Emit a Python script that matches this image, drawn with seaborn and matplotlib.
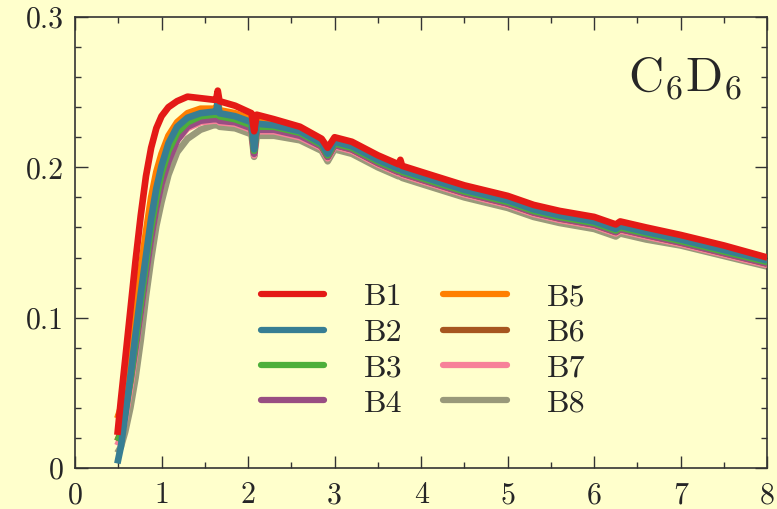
import numpy as np
import pandas as pd
import matplotlib
matplotlib.use("Agg")
import matplotlib.pyplot as plt
from matplotlib.ticker import MultipleLocator, FixedLocator, FixedFormatter
import seaborn as sns

# x grid shared by all bands
x_vals = [0.49, 0.53, 0.58, 0.64, 0.70, 0.76, 0.82, 0.88, 0.94, 1.00, 1.08, 1.18,
          1.30, 1.45, 1.60, 1.63, 1.65, 1.67, 1.85, 2.04, 2.07, 2.10, 2.30, 2.60,
          2.85, 2.92, 3.00, 3.20, 3.50, 3.74, 3.76, 3.78, 4.00, 4.50, 5.00, 5.30,
          5.60, 6.00, 6.25, 6.30, 6.60, 7.00, 7.50, 8.00]

b1 = [0.022, 0.045, 0.072, 0.105, 0.138, 0.168, 0.194, 0.213, 0.226, 0.234, 0.240, 0.244,
      0.247, 0.246, 0.245, 0.245, 0.251, 0.244, 0.241, 0.236, 0.224, 0.235, 0.232, 0.227,
      0.219, 0.213, 0.220, 0.217, 0.208, 0.202, 0.205, 0.201, 0.197, 0.188, 0.181, 0.175,
      0.171, 0.167, 0.162, 0.164, 0.160, 0.155, 0.148, 0.140]
b2 = [0.003, 0.014, 0.035, 0.061, 0.089, 0.116, 0.141, 0.166, 0.186, 0.201, 0.216, 0.227,
      0.233, 0.236, 0.237, 0.237, 0.243, 0.236, 0.234, 0.230, 0.212, 0.229, 0.228, 0.224,
      0.216, 0.209, 0.217, 0.214, 0.205, 0.199, 0.201, 0.198, 0.194, 0.185, 0.178, 0.172,
      0.168, 0.164, 0.159, 0.161, 0.157, 0.152, 0.145, 0.138]
b3 = [0.018, 0.022, 0.036, 0.058, 0.084, 0.110, 0.136, 0.160, 0.180, 0.196, 0.211, 0.223,
      0.230, 0.234, 0.235, 0.235, 0.240, 0.234, 0.232, 0.228, 0.211, 0.227, 0.227, 0.223,
      0.215, 0.208, 0.216, 0.213, 0.204, 0.198, 0.200, 0.197, 0.193, 0.184, 0.177, 0.171,
      0.167, 0.163, 0.158, 0.160, 0.156, 0.151, 0.144, 0.137]
b4 = [0.034, 0.036, 0.042, 0.058, 0.080, 0.104, 0.129, 0.153, 0.173, 0.189, 0.204, 0.218,
      0.227, 0.231, 0.232, 0.232, 0.237, 0.231, 0.230, 0.226, 0.209, 0.225, 0.225, 0.221,
      0.214, 0.207, 0.215, 0.212, 0.203, 0.197, 0.199, 0.196, 0.192, 0.183, 0.176, 0.170,
      0.166, 0.162, 0.157, 0.159, 0.155, 0.150, 0.143, 0.136]
b5 = [0.033, 0.040, 0.055, 0.078, 0.105, 0.132, 0.157, 0.180, 0.197, 0.209, 0.221, 0.230,
      0.236, 0.239, 0.239, 0.239, 0.244, 0.238, 0.236, 0.232, 0.215, 0.231, 0.230, 0.226,
      0.218, 0.211, 0.219, 0.216, 0.207, 0.201, 0.203, 0.200, 0.196, 0.187, 0.180, 0.174,
      0.170, 0.166, 0.161, 0.163, 0.159, 0.154, 0.147, 0.139]
b6 = [0.018, 0.024, 0.038, 0.060, 0.086, 0.112, 0.138, 0.161, 0.181, 0.196, 0.210, 0.222,
      0.229, 0.233, 0.234, 0.234, 0.239, 0.233, 0.231, 0.227, 0.210, 0.226, 0.226, 0.222,
      0.214, 0.207, 0.215, 0.212, 0.203, 0.197, 0.199, 0.196, 0.192, 0.183, 0.176, 0.170,
      0.166, 0.162, 0.157, 0.159, 0.155, 0.150, 0.143, 0.136]
b7 = [0.015, 0.020, 0.033, 0.054, 0.078, 0.104, 0.130, 0.154, 0.174, 0.190, 0.205, 0.218,
      0.226, 0.230, 0.231, 0.231, 0.236, 0.230, 0.229, 0.225, 0.208, 0.224, 0.224, 0.220,
      0.213, 0.206, 0.214, 0.211, 0.202, 0.196, 0.198, 0.195, 0.191, 0.182, 0.175, 0.169,
      0.165, 0.161, 0.156, 0.158, 0.154, 0.149, 0.142, 0.135]
b8 = [0.010, 0.014, 0.024, 0.040, 0.060, 0.085, 0.114, 0.139, 0.161, 0.177, 0.195, 0.210,
      0.219, 0.225, 0.228, 0.228, 0.232, 0.227, 0.226, 0.222, 0.207, 0.221, 0.221, 0.218,
      0.211, 0.204, 0.212, 0.209, 0.200, 0.194, 0.196, 0.193, 0.189, 0.180, 0.173, 0.167,
      0.163, 0.159, 0.154, 0.156, 0.152, 0.148, 0.141, 0.134]

band_names = ["B1", "B2", "B3", "B4", "B5", "B6", "B7", "B8"]
band_values = [b1, b2, b3, b4, b5, b6, b7, b8]

x_ticks = [0, 1, 2, 3, 4, 5, 6, 7, 8]
y_ticks = [0, 0.1, 0.2, 0.3]
y_tick_labels = ["0", "0.1", "0.2", "0.3"]

df = pd.concat([pd.DataFrame({"x": x_vals, "y": v, "band": n})
                for n, v in zip(band_names, band_values)], ignore_index=True)

bg = "#ffffcc"
sns.set_style("ticks")
plt.rcParams["mathtext.fontset"] = "cm"
plt.rcParams["font.family"] = ["cmr10", "DejaVu Serif"]

# Set1 without its yellow, as the colours look over the yellow paper
set1 = sns.color_palette("Set1", 9)
set1 = [c for i, c in enumerate(set1) if i != 5]
bg_rgb = np.array(matplotlib.colors.to_rgb(bg))
colors = {n: tuple(np.array(c) * bg_rgb) for n, c in zip(band_names, set1)}

fig = plt.figure(figsize=(7.77, 5.09), dpi=100, facecolor=bg)
ax = fig.add_axes([0.0965, 0.0806, 0.891, 0.886])
ax.set_facecolor(bg)

draw_order = ["B8", "B7", "B6", "B4", "B3", "B5", "B2", "B1"]
for z, name in enumerate(draw_order):
    sns.lineplot(data=df[df["band"] == name], x="x", y="y", color=colors[name],
                 lw=4.8, ax=ax, zorder=2 + z, legend=False, solid_capstyle="butt")

handles = [matplotlib.lines.Line2D([], [], color=colors[n], lw=4.5) for n in band_names]
ax.legend(handles, band_names, ncol=2, loc="upper left", bbox_to_anchor=(0.268, 0.41),
          frameon=False, fontsize=23, handlelength=2.0, handletextpad=1.25,
          columnspacing=1.25, labelspacing=0.22, borderpad=0, borderaxespad=0)

ax.text(0.964, 0.835, r"$\mathrm{C_6D_6}$", transform=ax.transAxes, ha="right",
        va="baseline", fontsize=35)

ax.set_xlim(0, 8)
ax.set_ylim(0, 0.3)
ax.xaxis.set_major_locator(FixedLocator(x_ticks))
ax.xaxis.set_minor_locator(MultipleLocator(0.5))
ax.yaxis.set_major_locator(FixedLocator(y_ticks))
ax.yaxis.set_major_formatter(FixedFormatter(y_tick_labels))
ax.yaxis.set_minor_locator(MultipleLocator(0.02))
ax.tick_params(which="both", direction="in", top=True, right=True, color="#333333")
ax.tick_params(which="major", length=9, width=1, labelsize=21.5)
ax.tick_params(axis="x", which="major", pad=10)
ax.tick_params(axis="y", which="major", pad=8)
ax.tick_params(which="minor", length=4.5, width=1)
for s in ax.spines.values():
    s.set_linewidth(1.2)
    s.set_color("#333333")
ax.set_xlabel("")
ax.set_ylabel("")

fig.savefig("out.png", dpi=100, facecolor=bg)
